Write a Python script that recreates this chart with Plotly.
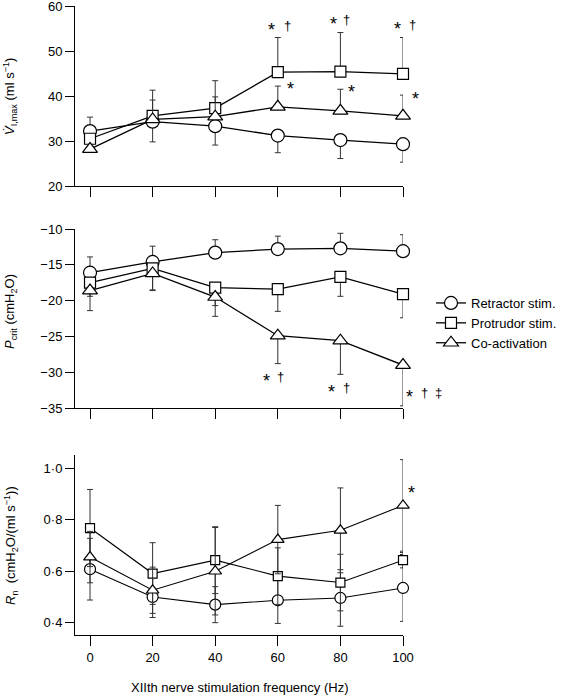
import plotly.graph_objects as go

W, H = 562, 698
freq = [0, 20, 40, 60, 80, 100]
series_names = ["Retractor stim.", "Protrudor stim.", "Co-activation"]
symbols = ["circle", "square", "triangle-up"]

# Top panel: V'I,max (ml s-1)
vmax_ret = [32.2, 34.3, 33.3, 31.2, 30.2, 29.3]
vmax_ret_up = [3.1, 0, 0, 0, 0, 0]
vmax_ret_dn = [0, 4.5, 4.2, 3.8, 4.1, 4.0]
vmax_pro = [30.5, 35.6, 37.3, 45.3, 45.4, 44.9]
vmax_pro_up = [0, 5.7, 6.1, 7.7, 8.7, 8.1]
vmax_pro_dn = [0, 0, 0, 0, 0, 0]
vmax_co = [28.2, 34.8, 35.4, 37.6, 36.7, 35.6]
vmax_co_up = [0, 4.3, 4.4, 4.6, 4.8, 4.6]
vmax_co_dn = [0, 0, 0, 0, 0, 0]

# Middle panel: Pcrit (cmH2O)
pcrit_ret = [-16.1, -14.6, -13.3, -12.8, -12.7, -13.1]
pcrit_ret_up = [2.2, 2.2, 1.8, 1.8, 2.1, 2.3]
pcrit_ret_dn = [0, 0, 0, 0, 0, 0]
pcrit_pro = [-17.5, -15.5, -18.2, -18.4, -16.7, -19.1]
pcrit_pro_up = [0, 0, 0, 0, 0, 0]
pcrit_pro_dn = [1.9, 3.0, 2.5, 3.1, 2.7, 3.3]
pcrit_co = [-18.6, -16.2, -19.5, -24.9, -25.6, -29.0]
pcrit_co_up = [0, 0, 0, 0, 0, 0]
pcrit_co_dn = [2.8, 2.4, 2.7, 3.9, 4.7, 5.7]

# Bottom panel: Rn (cmH2O/(ml s-1))
rn_ret = [0.608, 0.50, 0.47, 0.487, 0.496, 0.535]
rn_ret_err = [0.12, 0.08, 0.07, 0.09, 0.11, 0.13]
rn_pro = [0.768, 0.591, 0.643, 0.581, 0.556, 0.643]
rn_pro_err = [0.15, 0.12, 0.13, 0.11, 0.11, 0.03]
rn_co = [0.655, 0.526, 0.60, 0.723, 0.759, 0.856]
rn_co_err = [0.10, 0.09, 0.17, 0.133, 0.165, 0.178]

# significance marks: (freq, value, text, xshift px)
vmax_marks = [(60, 55.6, "*", -6), (60, 55.6, "†", 9.5), (80, 56.9, "*", -7), (80, 56.9, "†", 6),
              (100, 55.8, "*", -6), (100, 55.8, "†", 9.5),
              (60, 42.4, "*", 12.5), (80, 41.8, "*", 11), (100, 40.2, "*", 12.5)]
pcrit_marks = [(60, -30.6, "*", -11.5), (60, -30.6, "†", 2.5), (80, -32.2, "*", -9.3), (80, -32.2, "†", 5.7),
               (100, -32.9, "*", 6.5), (100, -32.9, "†", 21.5), (100, -32.9, "‡", 35.5)]
rn_marks = [(100, 0.92, "*", 8)]

fig = go.Figure()
FONT = "Liberation Sans, Arial, sans-serif"


def add(y, up, dn, k, xa, ya, size, legend=False, lw=1.3):
    fig.add_trace(go.Scatter(
        x=freq, y=y, mode="lines+markers", name=series_names[k],
        xaxis=xa, yaxis=ya, showlegend=legend, cliponaxis=False,
        line=dict(color="black", width=lw),
        marker=dict(symbol=symbols[k], size=size,
                    color="white", line=dict(color="black", width=1.2)),
        error_y=dict(type="data", symmetric=False, array=up, arrayminus=dn,
                     color="#333333", thickness=1, width=3),
    ))


add(vmax_ret, vmax_ret_up, vmax_ret_dn, 0, "x", "y", 13)
add(vmax_pro, vmax_pro_up, vmax_pro_dn, 1, "x", "y", 11)
add(vmax_co, vmax_co_up, vmax_co_dn, 2, "x", "y", 13)
add(pcrit_ret, pcrit_ret_up, pcrit_ret_dn, 0, "x2", "y2", 13, True)
add(pcrit_pro, pcrit_pro_up, pcrit_pro_dn, 1, "x2", "y2", 11, True)
add(pcrit_co, pcrit_co_up, pcrit_co_dn, 2, "x2", "y2", 13, True)
add(rn_ret, rn_ret_err, rn_ret_err, 0, "x3", "y3", 11, lw=1.1)
add(rn_pro, rn_pro_err, rn_pro_err, 1, "x3", "y3", 9, lw=1.1)
add(rn_co, rn_co_err, rn_co_err, 2, "x3", "y3", 11, lw=1.1)

xdom = [75 / W, 403 / W]


def px_y(a, b):
    return [1 - b / H, 1 - a / H]


common_x = dict(domain=xdom, range=[-4.8, 100], tickvals=freq, ticks="outside", ticklen=10,
                tickcolor="black", showline=True, linecolor="black", linewidth=1,
                showgrid=False, zeroline=False, ticklabeloverflow="allow",
                tickfont=dict(family=FONT, size=13, color="black"))
common_y = dict(ticks="outside", ticklen=9, tickcolor="black", showline=True, linecolor="black",
                linewidth=1, showgrid=False, zeroline=False, ticklabeloverflow="allow",
                tickfont=dict(family=FONT, size=13, color="black"))

fig.update_layout(
    width=W, height=H, margin=dict(l=0, r=0, t=0, b=0, autoexpand=False),
    paper_bgcolor="white", plot_bgcolor="white",
    font=dict(family=FONT, size=13, color="black"),
    xaxis=dict(common_x, anchor="y", showticklabels=False),
    xaxis2=dict(common_x, anchor="y2", showticklabels=False),
    xaxis3=dict(common_x, anchor="y3", showticklabels=True),
    yaxis=dict(common_y, anchor="x", domain=px_y(6, 186), range=[20, 60],
               tickvals=[20, 30, 40, 50, 60]),
    yaxis2=dict(common_y, anchor="x2", domain=px_y(229, 408), range=[-35, -10],
                tickvals=[-35, -30, -25, -20, -15, -10],
                ticktext=["−35", "−30", "−25", "−20", "−15", "−10"]),
    yaxis3=dict(common_y, anchor="x3", domain=px_y(455, 635), range=[0.352, 1.052],
                tickvals=[0.4, 0.6, 0.8, 1.0], ticktext=["0·4", "0·6", "0·8", "1·0"]),
    legend=dict(x=431 / W, y=1 - 288 / H, xanchor="left", yanchor="top",
                font=dict(family=FONT, size=13, color="black"),
                bgcolor="rgba(0,0,0,0)", tracegroupgap=0),
)

anns = []
for marks, xr, yr in [(vmax_marks, "x", "y"), (pcrit_marks, "x2", "y2"), (rn_marks, "x3", "y3")]:
    for (fx, vy, t, xs) in marks:
        anns.append(dict(x=fx, y=vy, xref=xr, yref=yr, text=t, showarrow=False, xshift=xs,
                         xanchor="center", yanchor="middle",
                         yshift=-4 if t == "*" else 0,
                         font=dict(family=FONT, size=18 if t == "*" else 13, color="black")))

# axis titles
title_common = dict(xref="paper", yref="paper", showarrow=False, xanchor="center", yanchor="middle",
                    font=dict(family=FONT, size=13, color="black"))
anns.append(dict(title_common, x=10 / W, y=1 - 97 / H, textangle=-90,
                 text="<i>V̇</i><sub>I,max</sub> (ml s<sup>−1</sup>)"))
anns.append(dict(title_common, x=10 / W, y=1 - 312 / H, textangle=-90,
                 text="<i>P</i><sub>crit</sub> (cmH<sub>2</sub>O)"))
anns.append(dict(title_common, x=11 / W, y=1 - 546 / H, textangle=-90,
                 text="<i>R</i><sub>n</sub>  (cmH<sub>2</sub>O/(ml s<sup>−1</sup>))"))
anns.append(dict(title_common, x=239 / W, y=1 - 687 / H,
                 text="XIIth nerve stimulation frequency (Hz)"))
fig.update_layout(annotations=anns)

fig.write_html("out.html", config={"displayModeBar": False},
               post_script="document.body.style.margin='0';")
